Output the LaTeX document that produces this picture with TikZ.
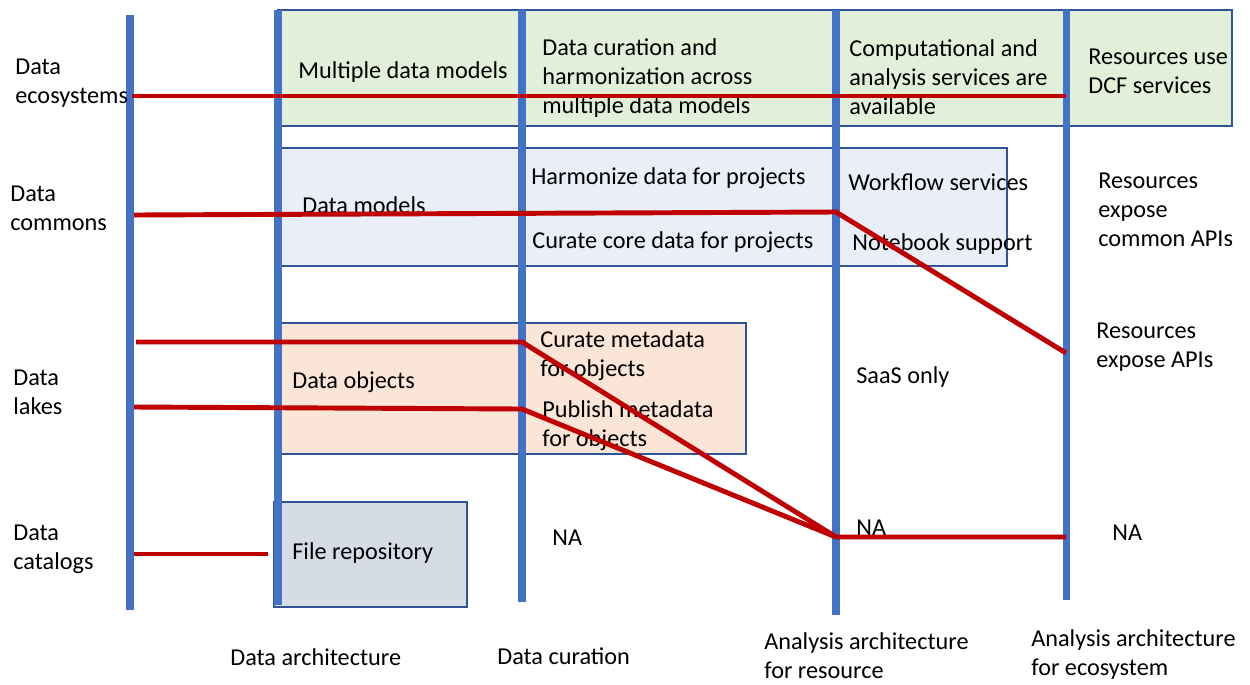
\documentclass[tikz,border=0pt]{standalone}
\usepackage{fontspec}
\setmainfont{Carlito}
\usetikzlibrary{positioning}
\definecolor{axisblue}{HTML}{4472C4}
\definecolor{boxblue}{HTML}{2F5597}
\definecolor{linkred}{HTML}{C00000}
\definecolor{ecofill}{HTML}{E2F0D9}
\definecolor{comfill}{HTML}{E9EEF8}
\definecolor{lakefill}{HTML}{FBE5D6}
\definecolor{catfill}{HTML}{D6DCE5}

\begin{document}
\begin{tikzpicture}[x=0.02cm,y=-0.02cm,
    axis/.style={draw=axisblue,line width=4pt},
    link/.style={draw=linkred,line width=2.8pt},
    box/.style={draw=boxblue,line width=1.1pt},
    txt/.style={anchor=west,align=left,inner sep=0pt,font=\fontsize{13.8}{16.5}\selectfont}]
    \useasboundingbox (0,0) rectangle (1250,684);

    \filldraw[box,fill=ecofill] (278,10) rectangle (1232,126);
    \filldraw[box,fill=comfill] (280,148) rectangle (1007,266);
    \filldraw[box,fill=lakefill] (280,323) rectangle (746,454);
    \filldraw[box,fill=catfill] (274,502) rectangle (467,607);

    \foreach \x/\a/\b in {130/15/610,278/10/605,522/10/602,836/10/615,1066/10/600}
        \draw[axis] (\x,\a) -- (\x,\b);

    \node[txt] (eco) at (15,83) {Data\\ecosystems};
    \node[txt] (commons) at (10,208) {Data\\commons};
    \node[txt] (lakes) at (13,392) {Data\\lakes};
    \node[txt] (catalogs) at (13,549) {Data\\catalogs};

    \node[txt] (multi) at (298,72) {Multiple data models};
    \node[txt] (harmall) at (542,78) {Data curation and\\harmonization across\\multiple data models};
    \node[txt] (compute) at (849,77) {Computational and\\analysis services are\\available};
    \node[txt] (dcf) at (1088,71) {Resources use\\DCF services};

    \node[txt] (models) at (302,205) {Data models};
    \node[txt] (harm) at (531,178) {Harmonize data for projects};
    \node[txt] (core) at (532,242) {Curate core data for projects};
    \node[txt] (workflow) at (848,182) {Workflow services};
    \node[txt] (notebook) at (852,244) {Notebook support};
    \node[txt] (commonapi) at (1098,210) {Resources\\expose\\common APIs};

    \node[txt] (objects) at (292,382) {Data objects};
    \node[txt] (curmeta) at (540,356) {Curate metadata\\for objects};
    \node[txt] (pubmeta) at (542,426) {Publish metadata\\for objects};
    \node[txt] (saas) at (856,377) {SaaS only};
    \node[txt] (exposeapi) at (1096,347) {Resources\\expose APIs};

    \node[txt] (filerepo) at (292,553) {File repository};
    \node[txt] (nacur) at (552,538) {NA};
    \node[txt] (nares) at (856,528) {NA};
    \node[txt] (naeco) at (1112,533) {NA};

    \node[txt] (colarch) at (230,657) {Data architecture};
    \node[txt] (colcur) at (497,656) {Data curation};
    \node[txt] (colres) at (764,656) {Analysis architecture\\for resource};
    \node[txt] (coleco) at (1031,655) {Analysis architecture\\for ecosystem};

    \coordinate (e0) at (132,96);
    \coordinate (e4) at (1066,96);
    \coordinate (c0) at (134,215);
    \coordinate (c3) at (836,212);
    \coordinate (c4) at (1066,353);
    \coordinate (l0) at (136,342);
    \coordinate (l2) at (522,342);
    \coordinate (p0) at (134,407);
    \coordinate (p2) at (522,409);
    \coordinate (n3) at (836,537);
    \coordinate (n4) at (1066,537);
    \coordinate (k0) at (134,554);
    \coordinate (k1) at (268,554);

    \draw[link] (e0) -- (e4);
    \draw[link] (c0) -- (c3) -- (c4);
    \draw[link] (l0) -- (l2) -- (n3);
    \draw[link] (p0) -- (p2) -- (n3) -- (n4);
    \draw[link] (k0) -- (k1);
\end{tikzpicture}
\end{document}
